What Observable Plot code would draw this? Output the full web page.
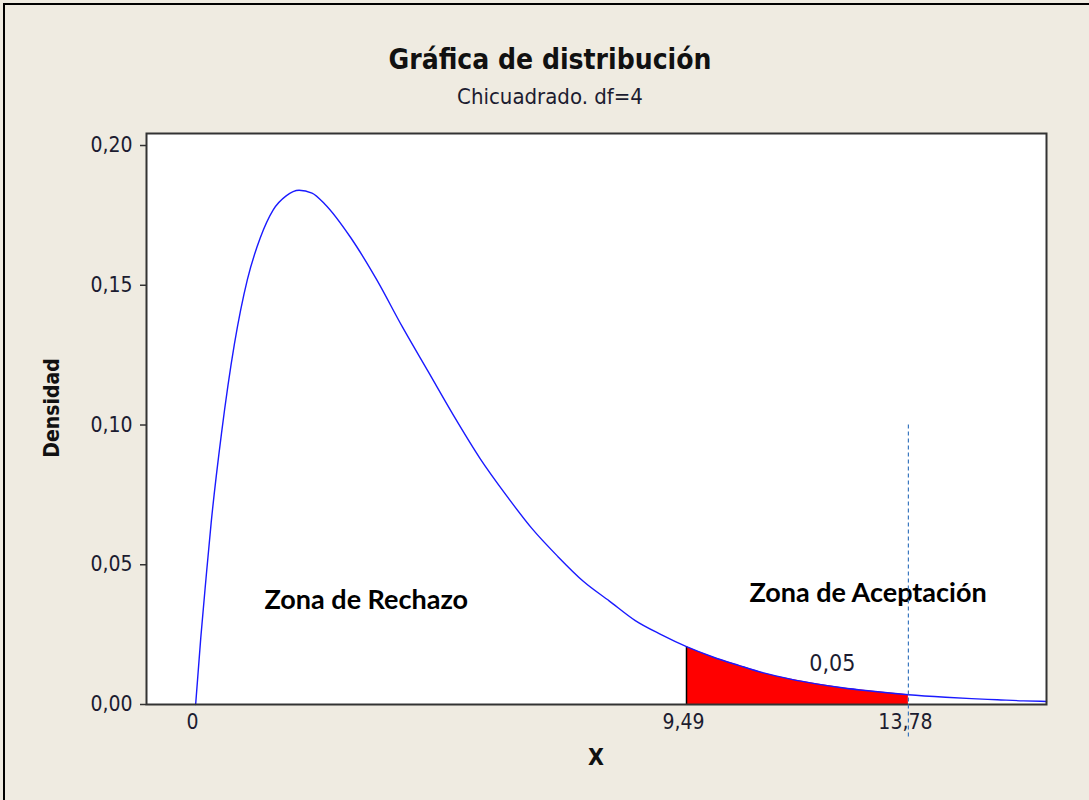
<!DOCTYPE html>
<html>
<head>
<meta charset="utf-8">
<script src="https://cdn.jsdelivr.net/npm/d3@7"></script>
<script src="https://cdn.jsdelivr.net/npm/@observablehq/plot@0.6"></script>
<style>
  html, body { margin: 0; padding: 0; background: #efebe1; }
  #wrap { position: relative; width: 1089px; height: 800px; overflow: hidden; background: #efebe1; }
  #border { position: absolute; left: 3px; top: 3px; right: -10px; bottom: -10px; border-top: 2px solid #000; border-left: 2px solid #000; }
  .t { position: absolute; white-space: nowrap; font-family: "DejaVu Sans Condensed", "DejaVu Sans", sans-serif; color: #111; line-height: 1; }
  #title { left: 550px; top: 60px; transform: translate(-50%, -50%); font-size: 28px; font-weight: bold; }
  #subtitle { left: 550px; top: 97px; transform: translate(-50%, -50%); font-size: 22px; color: #1c1c30; }
  #ylab { left: 52px; top: 408px; transform: translate(-50%, -50%) rotate(-90deg); font-size: 21px; font-weight: bold; }
  #xlab { left: 596px; top: 757px; transform: translate(-50%, -50%); font-size: 23px; font-weight: bold; }
  svg { position: absolute; left: 0; top: 0; }
</style>
</head>
<body>
<div id="wrap">
  <div id="border"></div>
  <div id="chart"></div>
  <div class="t" id="title">Gráfica de distribución</div>
  <div class="t" id="subtitle">Chicuadrado. df=4</div>
  <div class="t" id="ylab">Densidad</div>
  <div class="t" id="xlab">X</div>
</div>
<script>
// Density curve (Chi-square, df = 4)
const xValues = [0, 0.1, 0.2, 0.3, 0.5, 0.75, 1.0, 1.25, 1.5, 1.75, 2.0, 2.25, 2.5, 3.0, 3.5, 4.0, 4.5, 5.0, 5.5, 6.0, 6.5, 7.0, 7.5, 8.0, 8.5, 9.0, 9.49, 10.0, 10.5, 11.0, 11.5, 12.0, 12.5, 13.0, 13.78, 14.5, 15.0, 15.5, 16.0, 16.45];
const density = [0.000, 0.024, 0.045, 0.065, 0.097, 0.129, 0.152, 0.167, 0.177, 0.182, 0.184, 0.183, 0.179, 0.167, 0.152, 0.135, 0.119, 0.103, 0.088, 0.075, 0.063, 0.053, 0.044, 0.037, 0.030, 0.025, 0.0207, 0.017, 0.014, 0.0112, 0.0091, 0.0074, 0.0060, 0.0049, 0.0035, 0.0026, 0.0021, 0.0017, 0.0013, 0.0011];

const xTicks = [0, 9.49, 13.78];
const yTicks = [0, 0.05, 0.10, 0.15, 0.20];
const critical = 9.49;      // start of shaded region
const boundary = 13.78;     // dashed line
const boundaryTop = 0.10;
const areaLabel = "0,05";

// annotation labels (data space)
const labelText = ["Zona de Rechazo", "Zona de Aceptación"];
const labelX = [3.30, 13.0];
const labelY = [0.0372, 0.0397];
const alphaX = 12.31, alphaY = 0.0147;

const curveData = xValues.map((x, i) => ({x, y: density[i]}));
const areaData = curveData.filter(d => d.x >= critical && d.x <= boundary);
const critY = density[xValues.indexOf(critical)];
const labels = labelText.map((t, i) => ({t, x: labelX[i], y: labelY[i]}));

const fmtY = d => d.toFixed(2).replace(".", ",");
const fmtX = d => d === 0 ? "0" : d.toFixed(2).replace(".", ",");
const curve = "monotone-x";

const chart = Plot.plot({
  width: 1089,
  height: 800,
  marginLeft: 146,
  marginRight: 43,
  marginTop: 133,
  marginBottom: 96,
  style: {background: "transparent", fontFamily: "'DejaVu Sans Condensed', 'DejaVu Sans', sans-serif", fontSize: "21px", color: "#1c1c30", overflow: "visible"},
  x: {domain: [-0.95, 16.45]},
  y: {domain: [0, 0.2043]},
  marks: [
    Plot.frame({fill: "white", stroke: null}),
    Plot.areaY(areaData, {x: "x", y: "y", fill: "#ff0000", curve}),
    Plot.ruleX([critical], {y1: 0, y2: critY, stroke: "#000", strokeWidth: 1.5}),
    Plot.line(curveData, {x: "x", y: "y", stroke: "#1a1aff", strokeWidth: 1.4, curve}),
    Plot.axisX({ticks: xTicks, tickFormat: fmtX, tickSize: 0, tickPadding: 10, label: null, fill: "#1c1c30", fontSize: 21, dx: -3}),
    Plot.axisY({ticks: yTicks, tickFormat: fmtY, tickSize: 6, tickPadding: 8, label: null, fill: "#1c1c30", fontSize: 21, stroke: "#333", strokeWidth: 1.5}),
    Plot.frame({stroke: "#333", strokeWidth: 2}),
    Plot.text(labels, {x: "x", y: "y", text: "t", fontWeight: "bold", fontSize: 27, fill: "#000", fontFamily: "Lato, 'Open Sans', sans-serif"}),
    Plot.text([areaLabel], {x: alphaX, y: alphaY, text: d => d, fontSize: 23, fill: "#1c1c30"}),
    Plot.ruleX([boundary], {y1: boundaryTop, y2: -0.0118, stroke: "#3b78c0", strokeWidth: 1.2, strokeDasharray: "4,3", clip: false})
  ]
});
document.getElementById("chart").appendChild(chart);
</script>
</body>
</html>
